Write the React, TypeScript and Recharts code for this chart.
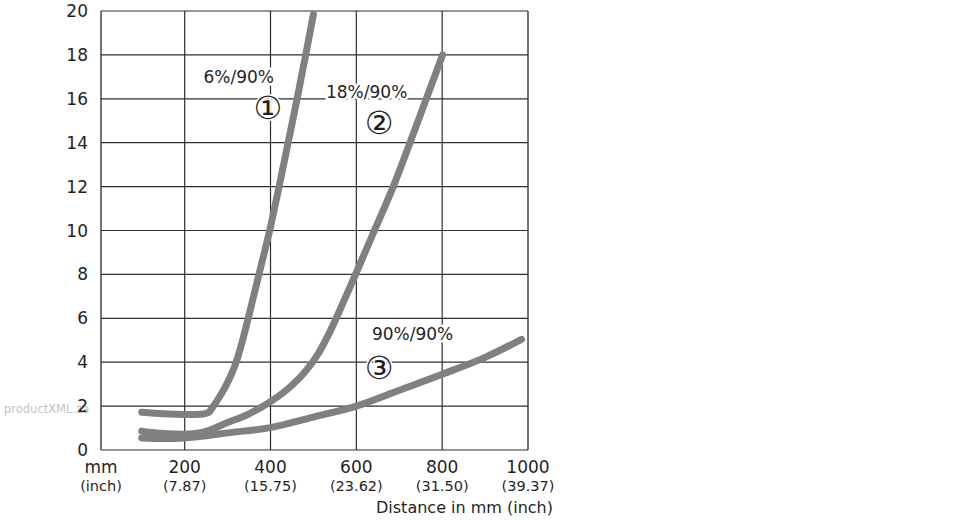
import React from 'react';
import { LineChart, Line, XAxis, YAxis, CartesianGrid, ReferenceDot } from 'recharts';

// Series (distance in mm, value)
const curve1X = [100, 150, 200, 240, 255, 267, 282, 298, 320, 335, 348, 373, 398, 420, 441, 462, 482, 500];
const curve1Y = [1.72, 1.65, 1.62, 1.63, 1.7, 2.0, 2.45, 3.0, 4.0, 5.0, 6.0, 8.0, 10, 12, 14, 16, 18, 19.85];

const curve2X = [100, 150, 200, 240, 300, 350, 400, 450, 480, 510, 540, 570, 597, 641, 686, 725, 763, 801];
const curve2Y = [0.86, 0.75, 0.72, 0.8, 1.25, 1.65, 2.2, 2.95, 3.55, 4.35, 5.45, 6.75, 7.95, 9.95, 12, 14, 16, 18];

const curve3X = [100, 150, 200, 250, 300, 400, 500, 600, 700, 800, 900, 985];
const curve3Y = [0.55, 0.52, 0.55, 0.65, 0.78, 1.02, 1.5, 2.0, 2.72, 3.45, 4.22, 5.04];

// Axes
const xTicks = [5, 200, 400, 600, 800, 1000];
const xTickMain = ['mm', '200', '400', '600', '800', '1000'];
const xTickSub = ['(inch)', '(7.87)', '(15.75)', '(23.62)', '(31.50)', '(39.37)'];
const xMinorTicks = [100, 300, 500, 700, 900];
const yTicks = [0, 2, 4, 6, 8, 10, 12, 14, 16, 18, 20];
const xTitle = 'Distance in mm (inch)';
const watermark = 'productXML.za';

// Annotations
const annotText = ['6%/90%', '①', '18%/90%', '②', '90%/90%', '③'];
const annotX = [326, 394, 624, 653, 731, 653];
const annotY = [17.0, 15.58, 16.3, 14.88, 5.27, 3.72];

const toRows = (xs: number[], ys: number[]) => xs.map((x, i) => ({ x, y: ys[i] }));
const data1 = toRows(curve1X, curve1Y);
const data2 = toRows(curve2X, curve2Y);
const data3 = toRows(curve3X, curve3Y);

const FONT = '"DejaVu Sans", sans-serif';
const TEXT = '#1f1f1f';
const CURVE = '#808080';

const XTick = (props: any) => {
  const { x, y, payload } = props;
  const i = xTicks.indexOf(payload.value);
  return (
    <text textAnchor="middle" fill={TEXT} fontFamily={FONT}>
      <tspan x={x} y={y + 23} fontSize={17}>{xTickMain[i]}</tspan>
      <tspan x={x} y={y + 41} fontSize={14.5}>{xTickSub[i]}</tspan>
    </text>
  );
};

const XTitle = (props: any) => {
  const vb = props.viewBox || {};
  return (
    <text x={vb.x + vb.width + 25} y={vb.y + 62.5} textAnchor="end" fill={TEXT} fontFamily={FONT} fontSize={16}>
      {xTitle}
    </text>
  );
};

const makeShape = (text: string) => (p: any) => {
  const circled = text.length === 1;
  return (
    <text
      x={p.cx}
      y={p.cy}
      textAnchor="middle"
      dominantBaseline="central"
      fill={TEXT}
      stroke="#ffffff"
      strokeWidth={circled ? 3 : 5}
      paintOrder="stroke"
      fontFamily={FONT}
      fontSize={circled ? 32 : 17}
    >
      {text}
    </text>
  );
};

export default function App() {
  return (
    <div style={{ position: 'absolute', left: 0, top: 0, width: 970, height: 520 }}>
      <div
        style={{
          position: 'absolute',
          left: 4,
          top: 402,
          fontFamily: FONT,
          fontSize: 11.5,
          color: '#c4c4c4',
          whiteSpace: 'nowrap',
        }}
      >
        {watermark}
      </div>
      <div style={{ position: 'absolute', left: 0, top: 0 }}>
        <LineChart width={970} height={520} margin={{ top: 11, right: 442, bottom: 0, left: 0 }}>
          <CartesianGrid xAxisId="minor" horizontal={false} stroke="#b4b4b4" strokeWidth={1} />
          <CartesianGrid stroke="#2e2e2e" strokeWidth={1.2} />
          <XAxis
            xAxisId="minor"
            type="number"
            dataKey="x"
            domain={[5, 1000]}
            ticks={xMinorTicks}
            orientation="top"
            height={0}
            tick={false}
            axisLine={false}
            tickLine={false}
            allowDataOverflow
          />
          <XAxis
            type="number"
            dataKey="x"
            domain={[5, 1000]}
            ticks={xTicks}
            interval={0}
            height={70}
            tickSize={0}
            tickMargin={0}
            axisLine={false}
            tickLine={false}
            tick={<XTick />}
            label={<XTitle />}
            allowDataOverflow
          />
          <YAxis
            type="number"
            domain={[0, 20]}
            ticks={yTicks}
            interval={0}
            width={101}
            tickSize={0}
            tickMargin={13}
            axisLine={false}
            tickLine={false}
            tick={{ fill: TEXT, fontSize: 17, fontFamily: FONT }}
            allowDataOverflow
          />
          <Line data={data1} dataKey="y" type="monotone" stroke={CURVE} strokeWidth={7} strokeLinecap="round" dot={false} isAnimationActive={false} />
          <Line data={data2} dataKey="y" type="monotone" stroke={CURVE} strokeWidth={7} strokeLinecap="round" dot={false} isAnimationActive={false} />
          <Line data={data3} dataKey="y" type="monotone" stroke={CURVE} strokeWidth={7} strokeLinecap="round" dot={false} isAnimationActive={false} />
          {annotText.map((t, i) => (
            <ReferenceDot key={i} x={annotX[i]} y={annotY[i]} r={0} shape={makeShape(t)} ifOverflow="visible" />
          ))}
        </LineChart>
      </div>
    </div>
  );
}
